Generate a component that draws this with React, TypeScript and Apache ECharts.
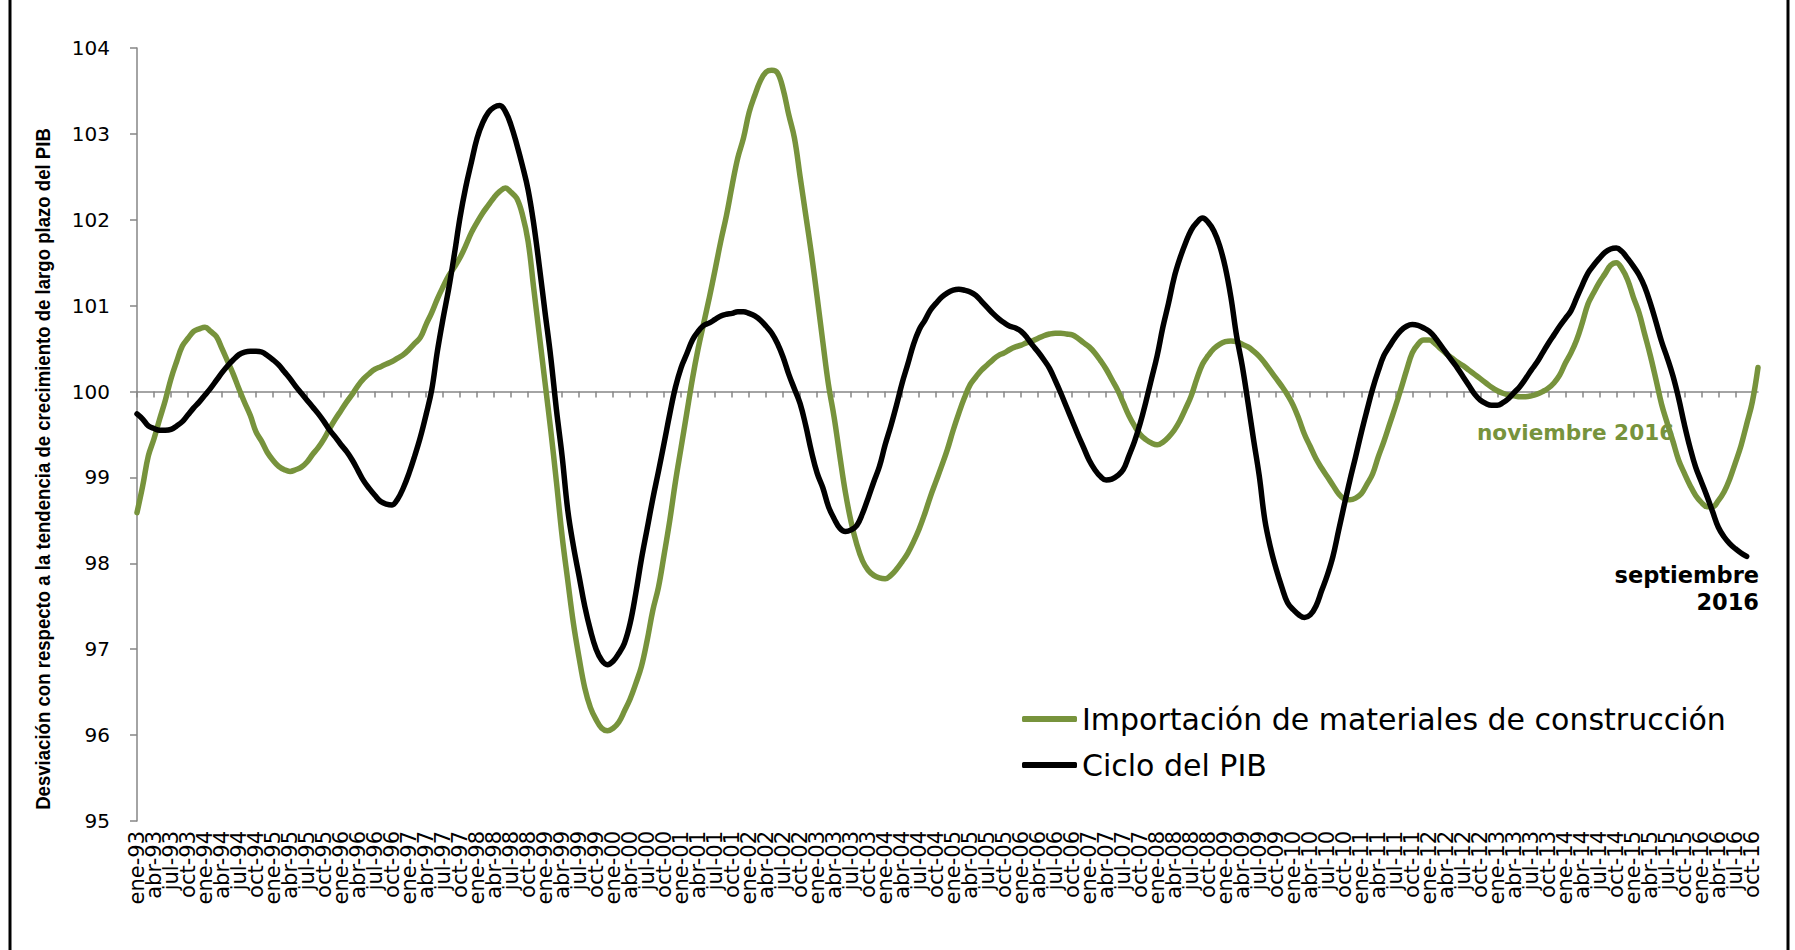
import React, { useEffect, useRef } from "react";
import * as echarts from "echarts";

const MONTHS = ["ene", "feb", "mar", "abr", "may", "jun", "jul", "ago", "sep", "oct", "nov", "dic"];
const YEARS = ["93", "94", "95", "96", "97", "98", "99", "00", "01", "02", "03", "04", "05", "06", "07", "08", "09", "10", "11", "12", "13", "14", "15", "16"];
const LAST_MONTH_2016 = 11; // noviembre 2016

const Y_TICKS = [95, 96, 97, 98, 99, 100, 101, 102, 103, 104];

const SERIES_NAMES = ["Importación de materiales de construcción", "Ciclo del PIB"];

// Importación de materiales de construcción (ene-93 .. nov-16)
const importaciones = [
  98.59, 98.9, 99.25, 99.45, 99.68, 99.9, 100.15, 100.35, 100.53, 100.62, 100.7, 100.73,
  100.75, 100.7, 100.64, 100.5, 100.35, 100.2, 100.03, 99.87, 99.72, 99.53, 99.42, 99.29,
  99.2, 99.13, 99.09, 99.07, 99.09, 99.12, 99.18, 99.27, 99.35, 99.45, 99.57, 99.68,
  99.78, 99.88, 99.97, 100.07, 100.15, 100.21, 100.26, 100.29, 100.32, 100.35, 100.39, 100.43,
  100.49, 100.56, 100.63, 100.78, 100.92, 101.08, 101.22, 101.35, 101.45, 101.56, 101.7, 101.85,
  101.97, 102.08, 102.17, 102.26, 102.33, 102.37, 102.32, 102.25, 102.06, 101.75, 101.2, 100.65,
  100.1, 99.55, 98.95, 98.32, 97.8, 97.3, 96.9, 96.55, 96.32, 96.18, 96.08, 96.05,
  96.08, 96.15, 96.28, 96.42, 96.6, 96.8, 97.1, 97.45, 97.72, 98.1, 98.5, 98.95,
  99.35, 99.75, 100.15, 100.5, 100.8, 101.1, 101.42, 101.75, 102.05, 102.4, 102.72, 102.95,
  103.25, 103.45, 103.62, 103.72, 103.74, 103.71, 103.52, 103.22, 102.95, 102.5, 102.05, 101.6,
  101.1, 100.58, 100.08, 99.7, 99.25, 98.82, 98.48, 98.22, 98.03, 97.92, 97.86, 97.83,
  97.82, 97.86, 97.93, 98.02, 98.12, 98.25, 98.4, 98.58, 98.78, 98.96, 99.14, 99.33,
  99.55, 99.75, 99.93, 100.08, 100.17, 100.25, 100.31, 100.37, 100.42, 100.45, 100.49, 100.52,
  100.54, 100.57, 100.59, 100.62, 100.65, 100.67, 100.68, 100.68, 100.67, 100.66, 100.62, 100.57,
  100.52, 100.45, 100.36, 100.26, 100.14, 100.02, 99.87, 99.72, 99.6, 99.5, 99.44, 99.4,
  99.38, 99.41, 99.47, 99.55, 99.66, 99.8, 99.95, 100.15, 100.32, 100.42, 100.5, 100.55,
  100.58, 100.59, 100.58, 100.55, 100.52, 100.47, 100.41, 100.33, 100.24, 100.15, 100.06, 99.96,
  99.84, 99.68, 99.5, 99.36, 99.22, 99.11, 99.01, 98.91, 98.81, 98.75, 98.74, 98.76,
  98.81, 98.92, 99.04, 99.24, 99.42, 99.62, 99.82, 100.03, 100.25, 100.45, 100.55, 100.6,
  100.6, 100.56, 100.5, 100.44, 100.39, 100.34, 100.3, 100.25, 100.2, 100.15, 100.1, 100.05,
  100.01, 99.98, 99.96, 99.95, 99.94, 99.94, 99.95, 99.97, 100.0, 100.04, 100.1, 100.19,
  100.33, 100.45, 100.6, 100.8, 101.02, 101.15, 101.27, 101.37, 101.47, 101.5, 101.43, 101.3,
  101.1, 100.92, 100.67, 100.42, 100.14, 99.85, 99.63, 99.42, 99.2, 99.05, 98.91, 98.79,
  98.71, 98.66, 98.66, 98.73, 98.83, 98.98, 99.17, 99.37, 99.62, 99.88, 100.28,
];

// Ciclo del PIB (ene-93 .. sep-16)
const cicloPib = [
  99.74, 99.68, 99.6, 99.57, 99.55, 99.55, 99.56, 99.6, 99.65, 99.73, 99.81, 99.88,
  99.96, 100.04, 100.13, 100.22, 100.3, 100.37, 100.43, 100.46, 100.47, 100.47, 100.46, 100.42,
  100.37, 100.31, 100.23, 100.15, 100.06, 99.98, 99.9, 99.82, 99.74, 99.65, 99.55, 99.47,
  99.38, 99.3, 99.2, 99.08, 98.96, 98.87, 98.79, 98.72, 98.69, 98.68, 98.75, 98.88,
  99.05, 99.25, 99.47, 99.73, 100.02, 100.47, 100.85, 101.2, 101.6, 102.03, 102.38, 102.67,
  102.95, 103.13, 103.25, 103.31, 103.33, 103.26, 103.1, 102.88, 102.63, 102.35, 101.95, 101.45,
  100.92, 100.4, 99.79, 99.25, 98.62, 98.2, 97.85, 97.5, 97.22, 97.0, 96.87, 96.82,
  96.86, 96.95, 97.07, 97.3, 97.65, 98.05, 98.4, 98.75, 99.07, 99.4, 99.74, 100.05,
  100.28, 100.44, 100.6, 100.7, 100.77, 100.8, 100.84, 100.88, 100.9, 100.91, 100.93, 100.93,
  100.91, 100.88, 100.83, 100.76, 100.68, 100.56, 100.4, 100.2, 100.03, 99.86, 99.6, 99.3,
  99.05, 98.88, 98.66, 98.52, 98.41, 98.37, 98.39, 98.44, 98.58, 98.76, 98.95, 99.13,
  99.38, 99.6, 99.84, 100.1, 100.32, 100.55, 100.72, 100.83, 100.95, 101.03, 101.1, 101.15,
  101.18, 101.19, 101.18, 101.16, 101.12, 101.05, 100.98, 100.91, 100.85, 100.8, 100.76, 100.74,
  100.7, 100.63, 100.54, 100.46, 100.37, 100.27, 100.13, 99.98, 99.82, 99.66, 99.5, 99.35,
  99.2, 99.09, 99.01, 98.97, 98.98, 99.02, 99.09, 99.25, 99.42, 99.63, 99.88, 100.15,
  100.42, 100.75, 101.03, 101.33, 101.55, 101.73, 101.88, 101.97, 102.02, 101.97, 101.87, 101.7,
  101.45, 101.1, 100.65, 100.3, 99.88, 99.44, 99.02, 98.5, 98.18, 97.93, 97.72, 97.54,
  97.46, 97.4, 97.37, 97.4, 97.5, 97.68, 97.86, 98.08, 98.38, 98.68, 98.97, 99.24,
  99.52, 99.78, 100.03, 100.24, 100.42, 100.53, 100.63, 100.71, 100.76, 100.78, 100.77, 100.74,
  100.7, 100.63, 100.54, 100.45, 100.36, 100.27, 100.17, 100.07, 99.97, 99.9, 99.86, 99.84,
  99.84, 99.87, 99.92, 99.99, 100.06, 100.15, 100.25, 100.34, 100.45, 100.56, 100.66, 100.76,
  100.85, 100.94, 101.09, 101.24, 101.38, 101.47, 101.55, 101.62, 101.66, 101.67, 101.63, 101.55,
  101.46, 101.36, 101.22, 101.03, 100.81, 100.58, 100.39, 100.18, 99.92, 99.62, 99.35, 99.12,
  98.95, 98.78, 98.6, 98.42, 98.31, 98.23, 98.17, 98.12, 98.08,
];

const GREEN = "#77933C";
const AXIS_GRAY = "#868686";

function buildCategories(): string[] {
  const out: string[] = [];
  YEARS.forEach((yy, yi) => {
    MONTHS.forEach((mm, mi) => {
      if (yi === YEARS.length - 1 && mi >= LAST_MONTH_2016) return;
      out.push(`${mm}-${yy}`);
    });
  });
  return out;
}

// labels every 3 months, split over two label axes (ene/jul and abr/oct)
const labelsEneJul = (index: number) => index % 6 === 0;
const labelsAbrOct = (index: number) => index % 6 === 3;

export default function App() {
  const ref = useRef<HTMLDivElement>(null);

  useEffect(() => {
    if (!ref.current) return;
    const chart = echarts.init(ref.current, undefined, { renderer: "svg" });
    const categories = buildCategories();
    const gridTop = 48;
    const gridBottom = 129;
    const gridHeight = 950 - gridTop - gridBottom;
    const yMin = Y_TICKS[0];
    const yMax = Y_TICKS[Y_TICKS.length - 1];
    const offset100 = -((100 - yMin) / (yMax - yMin)) * gridHeight;

    const labelAxis = (intervalFn: (i: number) => boolean) => ({
      type: "category",
      data: categories,
      boundaryGap: false,
      position: "bottom",
      offset: 0,
      axisLine: { show: false },
      axisTick: { show: false },
      axisLabel: {
        interval: intervalFn,
        rotate: 90,
        margin: 10,
        fontSize: 21,
        fontFamily: "DejaVu Sans",
        color: "#000000",
      },
      splitLine: { show: false },
    });

    chart.setOption({
      animation: false,
      backgroundColor: "#ffffff",
      grid: { left: 137, right: 37, top: gridTop, bottom: gridBottom, containLabel: false },
      xAxis: [
        labelAxis(labelsEneJul),
        labelAxis(labelsAbrOct),
        {
          type: "category",
          data: categories,
          boundaryGap: false,
          position: "bottom",
          offset: offset100,
          axisLine: { show: true, lineStyle: { color: AXIS_GRAY, width: 1.5 } },
          axisTick: { show: true, interval: 2, length: 6, inside: false, lineStyle: { color: AXIS_GRAY, width: 1.5 } },
          axisLabel: { show: false },
          splitLine: { show: false },
        },
      ],
      yAxis: {
        type: "value",
        min: yMin,
        max: yMax,
        interval: 1,
        axisLine: { show: true, lineStyle: { color: AXIS_GRAY, width: 1.5 } },
        axisTick: { show: true, length: 7, lineStyle: { color: AXIS_GRAY, width: 1.5 } },
        axisLabel: { margin: 27, fontSize: 20, fontFamily: "DejaVu Sans", color: "#000000" },
        splitLine: { show: false },
      },
      legend: {
        orient: "vertical",
        left: 1017,
        top: 699,
        itemWidth: 55,
        itemHeight: 6,
        itemGap: 16,
        icon: "roundRect",
        data: SERIES_NAMES,
        textStyle: { fontSize: 30, fontFamily: "DejaVu Sans", color: "#000000" },
      },
      series: [
        {
          name: SERIES_NAMES[0],
          type: "line",
          xAxisIndex: 0,
          data: importaciones,
          showSymbol: false,
          smooth: 0.4,
          color: GREEN,
          itemStyle: { color: GREEN },
          lineStyle: { color: GREEN, width: 5.5, cap: "round", join: "round" },
        },
        {
          name: SERIES_NAMES[1],
          type: "line",
          xAxisIndex: 0,
          data: cicloPib,
          showSymbol: false,
          smooth: 0.4,
          color: "#000000",
          itemStyle: { color: "#000000" },
          lineStyle: { color: "#000000", width: 5.5, cap: "round", join: "round" },
        },
      ],
      graphic: [
        {
          type: "text",
          x: 43,
          y: 469,
          rotation: Math.PI / 2,
          scaleX: 0.93,
          style: {
            text: "Desviación con respecto a la tendencia de crecimiento de largo plazo del PIB",
            fontSize: 20,
            fontWeight: "bold",
            fontFamily: "'Liberation Sans', Arial, sans-serif",
            fill: "#000000",
            align: "center",
            verticalAlign: "middle",
          },
        },
        {
          type: "text",
          x: 1477,
          y: 432,
          style: {
            text: "noviembre 2016",
            fontSize: 21.6,
            fontWeight: "bold",
            fontFamily: "DejaVu Sans",
            fill: GREEN,
            align: "left",
            verticalAlign: "middle",
          },
        },
        {
          type: "text",
          x: 1759,
          y: 575,
          style: {
            text: "septiembre",
            fontSize: 22.5,
            fontWeight: "bold",
            fontFamily: "DejaVu Sans",
            fill: "#000000",
            align: "right",
            verticalAlign: "middle",
          },
        },
        {
          type: "text",
          x: 1759,
          y: 602,
          style: {
            text: "2016",
            fontSize: 22.5,
            fontWeight: "bold",
            fontFamily: "DejaVu Sans",
            fill: "#000000",
            align: "right",
            verticalAlign: "middle",
          },
        },
        {
          type: "line",
          shape: { x1: 10, y1: 0, x2: 10, y2: 950 },
          style: { stroke: "#000000", lineWidth: 3 },
        },
        {
          type: "line",
          shape: { x1: 1788, y1: 0, x2: 1788, y2: 950 },
          style: { stroke: "#000000", lineWidth: 3 },
        },
      ],
    });

    return () => {
      chart.dispose();
    };
  }, []);

  return (
    <div
      ref={ref}
      style={{ position: "fixed", left: 0, top: 0, width: 1795, height: 950, background: "#ffffff" }}
    />
  );
}
